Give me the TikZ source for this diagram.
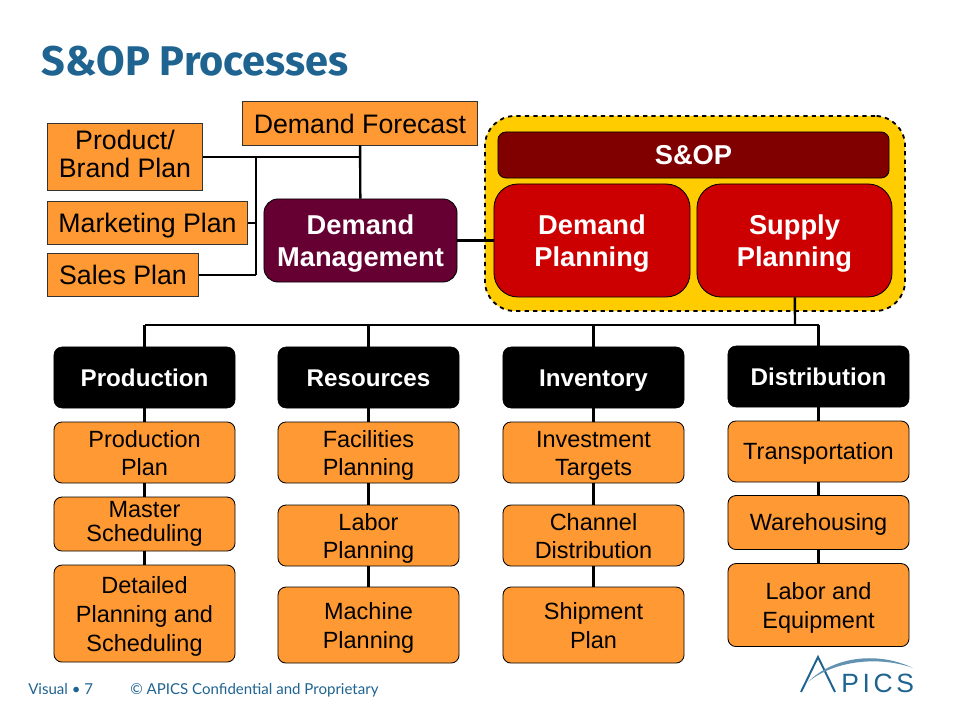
\documentclass[tikz,border=0pt]{standalone}
\usepackage{fontspec}
\setmainfont{Liberation Sans}
\newfontfamily\titlefont{Fira Sans}
\newfontfamily\footfont{Lato}
\newfontfamily\logofont[LetterSpace=14]{Liberation Sans}
\usetikzlibrary{positioning}
\definecolor{planorange}{HTML}{FF9933}
\definecolor{mgmtmaroon}{HTML}{660033}
\definecolor{sopdark}{HTML}{800000}
\definecolor{planred}{HTML}{CC0000}
\definecolor{sopyellow}{HTML}{FFCC00}
\definecolor{apicsblue}{HTML}{1F6391}
\newcommand{\evenline}{\rule[-0.234em]{0pt}{1.184em}}
\newcommand{\lowline}{\rule{0pt}{1em}}
\tikzset{
	even text/.style={execute at begin node=\evenline,execute at end node=\evenline},
	plan/.style={draw=black!80,line width=0.7pt,fill=planorange,inner sep=0pt,align=center,even text,font=\fontsize{19}{20.5}\selectfont},
	head/.style={draw=black,fill=black,text=white,rounded corners=0.2cm,inner sep=0pt,align=center,even text,minimum width=4.525cm,minimum height=1.525cm,font=\fontsize{17.2}{20}\bfseries\selectfont},
	task/.style={draw=black,line width=0.6pt,fill=planorange,rounded corners=0.2cm,inner sep=0pt,align=center,even text,minimum width=4.525cm,font=\fontsize{16.7}{20.5}\selectfont},
	core/.style={draw=black,line width=0.6pt,text=white,inner sep=0pt,align=center,even text,font=\fontsize{19.4}{22.7}\bfseries\selectfont},
	link/.style={draw=black,line width=1.7pt},
}
\begin{document}
\begin{tikzpicture}[x=0.025cm,y=-0.025cm,node distance=1.875cm,on grid]
	\useasboundingbox (0,0) rectangle (960,720);

	\node[anchor=base west,inner sep=0pt,text=apicsblue,font=\titlefont\fontsize{29.5}{32}\bfseries\selectfont] (title) at (41,76) {S\&OP Processes};

	\node[draw=black,line width=1.3pt,dashed,fill=sopyellow,rounded corners=0.75cm,minimum width=10.5cm,minimum height=4.875cm] (sop_area) at (695,213.5) {};
	\node[core,fill=sopdark,rounded corners=0.2cm,minimum width=9.775cm,minimum height=1.15cm] (sop) at (693.5,155) {S\&OP};
	\node[core,fill=planred,rounded corners=0.6cm,minimum width=4.9cm,minimum height=2.825cm] (demand_plan) at (592,240.5) {\lowline Demand\\Planning};
	\node[core,fill=planred,rounded corners=0.6cm,minimum width=4.875cm,minimum height=2.825cm] (supply_plan) at (794.5,240.5) {\lowline Supply\\Planning};

	\node[plan,minimum width=5.85cm,minimum height=1.075cm] (forecast) at (360,123.5) {Demand Forecast};
	\node[plan,minimum width=3.85cm,minimum height=1.65cm] (product) at (125,157) {Product/\\Brand Plan};
	\node[plan,minimum width=4.975cm,minimum height=1.05cm] (marketing) at (147.5,223) {Marketing Plan};
	\node[plan,minimum width=3.75cm,minimum height=1.05cm] (sales) at (123,275) {Sales Plan};
	\node[core,fill=mgmtmaroon,rounded corners=0.35cm,minimum width=4.825cm,minimum height=2.075cm] (mgmt) at (360.5,240.5) {\lowline Demand\\Management};

	\coordinate (join_left) at (256,157);
	\coordinate (join_top) at (360.5,157);
	\coordinate (bus) at (795,325);

	\node[head] (production) at (144.5,377.5) {Production};
	\node[task,minimum height=1.525cm] (prod_plan) [below=of production] {\lowline Production\\Plan};
	\node[task,minimum height=1.35cm] (master) [below=1.7875cm of prod_plan] {Master\\[-3.5pt]Scheduling};
	\node[task,minimum height=2.425cm] (detailed) [below=2.2375cm of master] {\lowline Detailed\\Planning and\\Scheduling};

	\node[head] (resources) at (368.5,377.5) {Resources};
	\node[task,minimum height=1.525cm] (facilities) [below=of resources] {\lowline Facilities\\Planning};
	\node[task,minimum height=1.525cm] (labor) [below=2.075cm of facilities] {\lowline Labor\\Planning};
	\node[task,minimum height=1.9cm] (machine) [below=2.2375cm of labor] {\lowline Machine\\Planning};

	\node[head] (inventory) at (593.5,377.5) {Inventory};
	\node[task,minimum height=1.525cm] (investment) [below=of inventory] {\lowline Investment\\Targets};
	\node[task,minimum height=1.525cm] (channel) [below=2.075cm of investment] {\lowline Channel\\Distribution};
	\node[task,minimum height=1.9cm] (shipment) [below=2.2375cm of channel] {\lowline Shipment\\Plan};

	\node[head] (distribution) at (818.5,376.5) {Distribution};
	\node[task,minimum height=1.525cm] (transport) [below=of distribution] {Transportation};
	\node[task,minimum height=1.35cm] (warehouse) [below=1.775cm of transport] {Warehousing};
	\node[task,minimum height=2.075cm] (equipment) [below=2.0625cm of warehouse] {\lowline Labor and\\Equipment};

	\path[link]
	(product) edge (join_top)
	(forecast) edge (mgmt)
	(join_left) edge (join_left |- sales)
	(marketing) edge (join_left |- marketing)
	(sales) edge (join_left |- sales)
	(mgmt) edge (demand_plan)
	(supply_plan) edge (bus)
	(bus) edge (bus -| production)
	(bus) edge (bus -| distribution)
	(bus -| production) edge (production)
	(bus -| resources) edge (resources)
	(bus -| inventory) edge (inventory)
	(bus -| distribution) edge (distribution);

	\path[draw=black,line width=1.5pt]
	(production) edge (prod_plan)
	(prod_plan) edge (master)
	(master) edge (detailed)
	(resources) edge (facilities)
	(facilities) edge (labor)
	(labor) edge (machine)
	(inventory) edge (investment)
	(investment) edge (channel)
	(channel) edge (shipment)
	(distribution) edge (transport)
	(transport) edge (warehouse)
	(warehouse) edge (equipment);

	\node[anchor=base west,inner sep=0pt,text=apicsblue,font=\footfont\fontsize{10.7}{12}\selectfont] (page) at (28,694) {Visual • 7};
	\node[anchor=base west,inner sep=0pt,text=apicsblue,font=\footfont\fontsize{10.7}{12}\selectfont] (confidential) at (130,694) {© APICS Confidential and Proprietary};

	\draw[apicsblue,line width=1.4pt] (801,692) -- (818,657) -- (835,692);
	\fill[apicsblue!70] (808,682) .. controls (835,655) and (880,652) .. (913,668) .. controls (880,656) and (835,660) .. (808,682);
	\node[anchor=base west,inner sep=0pt,text=apicsblue,font=\logofont\fontsize{18.8}{20}\selectfont] (apics) at (841,692) {PICS};
\end{tikzpicture}
\end{document}
